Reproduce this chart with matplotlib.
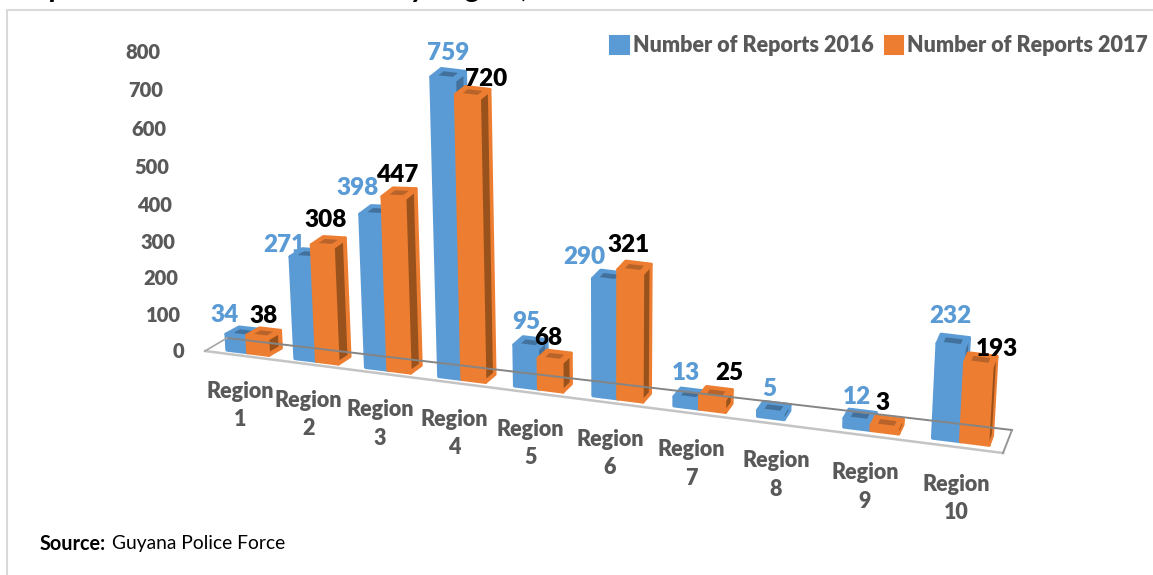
import numpy as np
import matplotlib
matplotlib.use('Agg')
import matplotlib.pyplot as plt
from matplotlib.patches import Patch, Polygon

plt.rcParams['font.family'] = ['Lato', 'DejaVu Sans']

# Dati
regions = ['Region\n1', 'Region\n2', 'Region\n3', 'Region\n4', 'Region\n5',
           'Region\n6', 'Region\n7', 'Region\n8', 'Region\n9', 'Region\n10']
reports_2016 = [34, 271, 398, 759, 95, 290, 13, 5, 12, 232]
reports_2017 = [38, 308, 447, 720, 68, 321, 25, None, 3, 193]
y_ticks = [0, 100, 200, 300, 400, 500, 600, 700, 800]

# Colori
blue, blue_dark = '#5B9BD5', '#41719C'
orange, orange_dark, orange_top = '#ED7D31', '#99521B', '#B8632A'
grey_text = '#595959'
heavy = 'heavy'

# Spostamento delle etichette rispetto alla cima della barra
nudge_2016 = [(-12, -20), (-17, -13), (-14, -27), (5, -25), (0, -24),
              (-21, -23), (-1, -25), (-2, -23), (-1, -23), (-1, -29)]
nudge_2017 = [(6, -20), (3, -25), (3, -22), (18, -17), (-2, -22),
              (-2, -26), (17, -24), None, (-3, -24), (18, -15)]

bar_w = 0.31


# Prospettiva finta: t = posizione lungo le categorie, in pixel sul foglio
def xf(t):
    return 227 + 68 * t + 1.3 * t * (t - 1)


def yb(x):
    return 350 + 0.1248 * (x - 227)


def depth(t):
    return np.array([13 - t, -7 - 0.25 * t])


def lift(p, v):
    scale = min(0.39, 0.36 + (p[0] - 292) * 0.0002)
    h = 4 + scale * v
    lean = (p[0] - 614) * 0.00015
    return p + np.array([lean * h, -h])


def base(t):
    x = xf(t)
    return np.array([x, yb(x)])


def tick_y(v):
    return 351 - 0.3562 * v - 2.19e-5 * v ** 2


def inner(a, b, c, d, u0, u1, v0, v1):
    # rettangolo interno di un quadrilatero a, b, c, d
    def q(u, v):
        return (1 - v) * ((1 - u) * a + u * b) + v * ((1 - u) * d + u * c)
    return [q(u0, v0), q(u1, v0), q(u1, v1), q(u0, v1)]


def draw_bar(ax, t0, v, col, dark, top_dark):
    t1 = t0 + bar_w
    fl, fr = base(t0), base(t1)
    bl, br = fl + depth(t0), fr + depth(t1)
    fl2, fr2, bl2, br2 = lift(fl, v), lift(fr, v), lift(bl, v), lift(br, v)
    for pts in ([fl, fr, fr2, fl2], [fr, br, br2, fr2], [fl2, fr2, br2, bl2]):
        ax.add_patch(Polygon(pts, closed=True, fc=col, ec=col, lw=2.4, joinstyle='round'))
    # facce interne scure
    h = abs(fr2[1] - fr[1])
    mv = min(0.3, 3 / h)
    ax.add_patch(Polygon(inner(fr, br, br2, fr2, 0.1, 0.8, mv, 1 - mv), closed=True,
                         fc=dark, ec='none'))
    ax.add_patch(Polygon(inner(fl2, fr2, br2, bl2, 0.2, 0.8, 0.25, 0.75), closed=True,
                         fc=top_dark, ec='none'))
    return (fl2 + fr2) / 2


fig = plt.figure(figsize=(11.53, 5.75), dpi=100)
ax = fig.add_axes([0, 0, 1, 1])
ax.set_xlim(0, 1153)
ax.set_ylim(575, 0)
ax.axis('off')

# Cornice
ax.plot([7, 7, 1153], [575, 9.5, 9.5], color='#D9D9D9', lw=1.5)

# Titolo tagliato in alto: si vedono solo le discendenti
ax.text(529, -2.5, 'by Region,', fontsize=22, fontweight='bold', style='italic',
        ha='right', va='baseline', color='k')
ax.text(57, -2.5, 'p', fontsize=22, fontweight='bold', style='italic',
        ha='center', va='baseline', color='k')

# Pavimento
fl_pt, fr_pt, br_pt, bl_pt = (205, 351), (1003, 453), (1012, 430), (227, 338)
ax.plot([fl_pt[0], fr_pt[0]], [fl_pt[1], fr_pt[1]], color='#C4C4C4', lw=1.8)
ax.plot([bl_pt[0], br_pt[0]], [bl_pt[1], br_pt[1]], color='#858585', lw=1.4)
ax.plot([fl_pt[0], bl_pt[0]], [fl_pt[1], bl_pt[1]], color='#A6A6A6', lw=1.2)
ax.plot([fr_pt[0], br_pt[0]], [fr_pt[1], br_pt[1]], color='#969696', lw=1.4)

# Barre ed etichette
for i in range(len(regions)):
    top = draw_bar(ax, i, reports_2016[i], blue, blue_dark, blue_dark)
    dx, dy = nudge_2016[i]
    label_blue = (top[0] + dx, top[1] + dy, str(reports_2016[i]))
    label_org = None
    if reports_2017[i] is not None:
        top = draw_bar(ax, i + bar_w, reports_2017[i], orange, orange_dark, orange_top)
        dx, dy = nudge_2017[i]
        label_org = (top[0] + dx, top[1] + dy, str(reports_2017[i]))
    ax.text(label_blue[0], label_blue[1], label_blue[2], color=blue, fontsize=17.5,
            fontweight=heavy, ha='center', va='center', zorder=5)
    if label_org:
        ax.text(label_org[0], label_org[1], label_org[2], color='k', fontsize=17.5,
                fontweight=heavy, ha='center', va='center', zorder=5)
    # Categoria
    x = xf(i + bar_w) - 8 + max(0, i - 7) * 2
    ax.text(x, yb(x) + 54 + (x - 239) * 0.005, regions[i], color=grey_text, fontsize=15.5,
            fontweight=heavy, ha='center', va='center', linespacing=1.45)

# Asse y
for v in y_ticks:
    ax.text(184 - 0.03 * v, tick_y(v), str(v), color=grey_text, fontsize=14.5,
            fontweight=heavy, ha='right', va='center')

# Legenda
handles = [Patch(fc=blue, ec=blue, lw=1.5, joinstyle='round', label='Number of Reports 2016'),
           Patch(fc=orange, ec=orange, lw=1.5, joinstyle='round', label='Number of Reports 2017')]
ax.legend(handles=handles, ncol=2, frameon=False, loc='center left',
          bbox_to_anchor=(604, 46), bbox_transform=ax.transData,
          prop={'size': 15.5, 'weight': heavy}, labelcolor=grey_text,
          handlelength=0.85, handleheight=0.85, handletextpad=0.2, columnspacing=0.5,
          borderpad=0, borderaxespad=0.3)

# Fonte
ax.text(40, 544, 'Source:', fontsize=14.3, fontweight='bold', color='k', va='center')
ax.text(112, 544, 'Guyana Police Force', fontsize=13.9, color='k', va='center')

plt.savefig('out.png', dpi=100)
plt.close()
